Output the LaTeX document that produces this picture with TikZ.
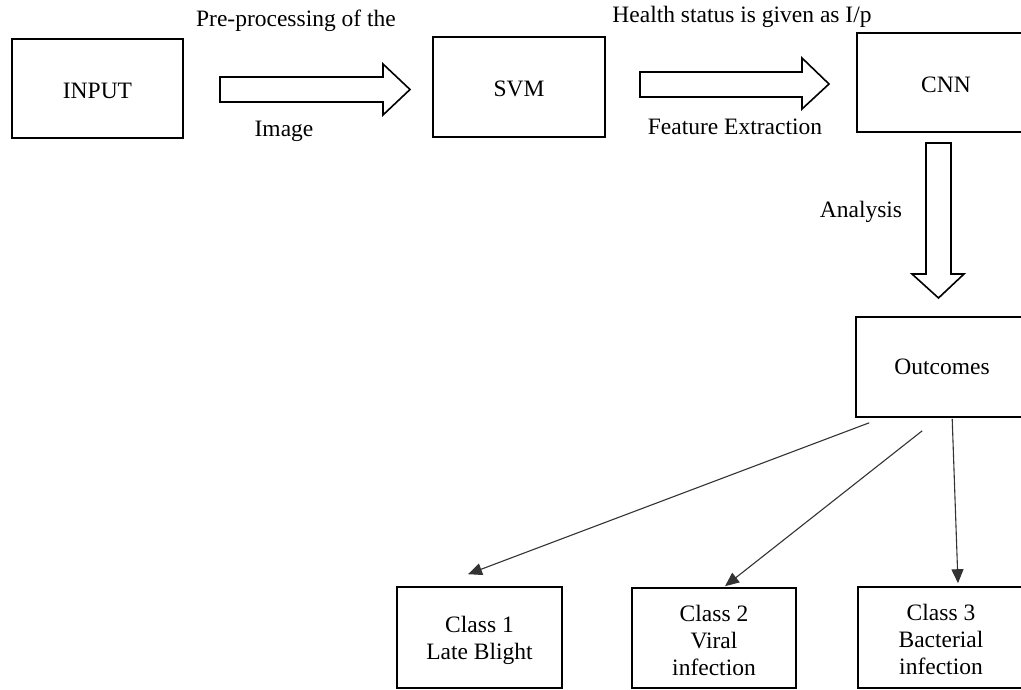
\documentclass[tikz,border=0pt]{standalone}
\usepackage{fontspec}
\setmainfont{Liberation Serif}
\usetikzlibrary{arrows.meta,calc}
\newcommand{\topstrut}[1]{\rule{0pt}{#1}}
\begin{document}
\begin{tikzpicture}[x=1pt,y=-1pt,
  box/.style={draw=black,line width=1.6pt,inner sep=0pt,align=center,
    font=\fontsize{23.5}{27}\selectfont},
  lbl/.style={inner sep=0pt,anchor=base,font=\fontsize{23.5}{27}\selectfont},
  blockarrow/.style={draw=black,line width=1.6pt,fill=white,line join=miter},
  thinarrow/.style={draw=black!80,line width=1.1pt,-{Triangle[length=14pt,width=12pt]}}]
\path[clip] (0,0) rectangle (1021,690);
% boxes
\node[box,minimum width=171pt,minimum height=99pt] (input) at (97.5,88.5) {\topstrut{20.5pt}INPUT};
\node[box,minimum width=172pt,minimum height=100pt] (svm) at (519,87) {\topstrut{20pt}SVM};
\node[box,minimum width=178pt,minimum height=99pt] (cnn) at (946,82.5) {\topstrut{21pt}CNN};
\node[box,minimum width=172pt,minimum height=100pt] (outc) at (942,367) {Outcomes};
\node[box,minimum width=165pt,minimum height=101pt] (c1) at (479.5,637.5) {\topstrut{23pt}Class 1\\Late Blight};
\node[box,minimum width=164pt,minimum height=100pt] (c2) at (714,638) {\topstrut{22pt}Class 2\\Viral\\infection};
\node[box,minimum width=166pt,minimum height=101pt] (c3) at (941,637.5) {\topstrut{20pt}Class 3\\Bacterial\\infection};
% block arrows
\draw[blockarrow] (220,77) -- (383,77) -- (383,64) -- (410,89.5) -- (383,115) -- (383,102) -- (220,102) -- cycle;
\draw[blockarrow] (640,72) -- (802,72) -- (802,58) -- (829,84) -- (802,109) -- (802,97) -- (640,97) -- cycle;
\draw[blockarrow] (926,143) -- (951,143) -- (951,274) -- (964,274) -- (938.5,298) -- (912,274) -- (926,274) -- cycle;
% labels
\node[lbl] (pre) at (296,27) {Pre-processing of the};
\node[lbl] (img) at (284,137) {Image};
\node[lbl] (hs) at (742,23) {Health status is given as I/p};
\node[lbl] (fe) at (735,135) {Feature Extraction};
\node[lbl] (an) at (861,218) {Analysis};
% thin arrows
\coordinate (a1s) at ($(outc.south west)+(14,5)$);
\coordinate (a2s) at ($(outc.south west)+(67,13)$);
\coordinate (a3s) at ($(outc.south west)+(97,1)$);
\coordinate (a1e) at ($(c1.north)+(-11.5,-12)$);
\coordinate (a2e) at ($(c2.north)+(11,-1)$);
\coordinate (a3e) at ($(c3.north)+(17,-3)$);
\draw[thinarrow] (a1s) -- (a1e);
\draw[thinarrow] (a2s) -- (a2e);
\draw[thinarrow] (a3s) -- (a3e);
\end{tikzpicture}
\end{document}
